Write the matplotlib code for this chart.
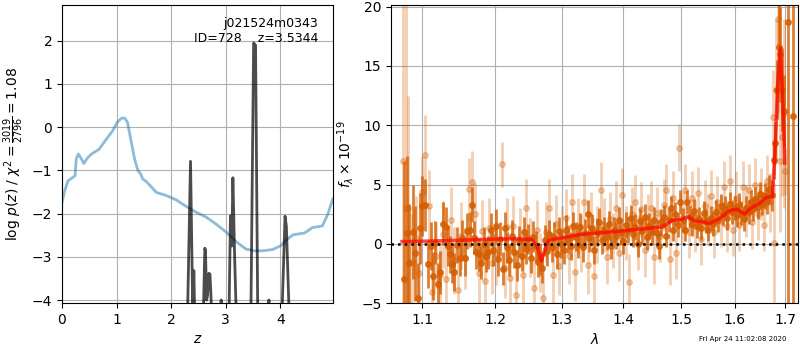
import matplotlib
matplotlib.use("Agg")
import matplotlib.pyplot as plt
from matplotlib.ticker import FixedLocator, FixedFormatter, NullLocator

# ---------------- left panel data ----------------
chi_z = [0.0, 0.05, 0.11, 0.2, 0.24, 0.26, 0.30, 0.35, 0.40, 0.46, 0.54, 0.68, 0.81, 0.93,
         1.01, 1.09, 1.15, 1.20, 1.27, 1.33, 1.39, 1.44, 1.48, 1.54, 1.73, 1.91, 2.09, 2.27,
         2.46, 2.64, 2.82, 3.01, 3.19, 3.37, 3.52, 3.68, 3.86, 4.01, 4.10, 4.23, 4.44, 4.59,
         4.71, 4.77, 4.87, 4.96]
chi_v = [-1.74, -1.47, -1.24, -1.16, -1.12, -0.74, -0.62, -0.72, -0.84, -0.72, -0.62, -0.51,
         -0.28, -0.08, 0.11, 0.21, 0.21, 0.11, -0.35, -0.74, -1.0, -1.08, -1.2, -1.25, -1.51,
         -1.58, -1.68, -1.83, -1.97, -2.08, -2.24, -2.43, -2.65, -2.82, -2.86, -2.86, -2.83,
         -2.74, -2.62, -2.49, -2.45, -2.32, -2.30, -2.28, -2.01, -1.66]

pz_z = [0.0, 2.30, 2.354, 2.395, 2.415, 2.43, 2.59, 2.616, 2.628, 2.648, 2.665, 2.69, 2.71,
        2.725, 2.74, 2.91, 2.915, 2.92, 3.06, 3.085, 3.11, 3.13, 3.16, 3.19, 3.46, 3.51,
        3.545, 3.585, 3.785, 3.79, 3.795, 4.03, 4.085, 4.11, 4.16, 4.96]
pz_v = [-10, -4.3, -0.79, -4.3, -3.32, -4.3, -4.3, -2.8, -2.85, -4.0, -3.9, -3.38, -3.4,
        -3.8, -4.3, -4.3, -4.0, -4.3, -4.3, -2.05, -2.75, -1.17, -2.9, -4.3, -4.3, 1.95,
        1.9, -4.3, -4.3, -4.0, -4.3, -4.3, -2.06, -2.3, -4.3, -10]

left_xticks = [0, 1, 2, 3, 4]
left_yticks = [-4, -3, -2, -1, 0, 1, 2]

# ---------------- right panel data ----------------
dark_wave = [1.076, 1.080, 1.083, 1.087, 1.090, 1.094, 1.097, 1.100, 1.103, 1.107, 1.111, 1.114,
             1.117, 1.121, 1.124, 1.128, 1.131, 1.134, 1.137, 1.140, 1.143, 1.147, 1.150, 1.154,
             1.157, 1.161, 1.164, 1.167, 1.170, 1.173, 1.177, 1.180, 1.184, 1.187, 1.190, 1.194,
             1.197, 1.201, 1.204, 1.207, 1.211, 1.214, 1.218, 1.221, 1.225, 1.228, 1.232, 1.235,
             1.239, 1.242, 1.246, 1.249, 1.253, 1.256, 1.260, 1.263, 1.267, 1.270, 1.274, 1.277,
             1.281, 1.285, 1.288, 1.292, 1.296, 1.299, 1.303, 1.307, 1.310, 1.314, 1.318, 1.322,
             1.325, 1.329, 1.333, 1.337, 1.341, 1.344, 1.348, 1.352, 1.356, 1.360, 1.364, 1.368,
             1.372, 1.376, 1.380, 1.384, 1.388, 1.392, 1.396, 1.400, 1.404, 1.408, 1.412, 1.416,
             1.420, 1.424, 1.428, 1.432, 1.436, 1.440, 1.444, 1.449, 1.453, 1.457, 1.461, 1.465,
             1.469, 1.473, 1.478, 1.482, 1.486, 1.490, 1.494, 1.499, 1.503, 1.507, 1.511, 1.516,
             1.520, 1.524, 1.529, 1.533, 1.537, 1.542, 1.546, 1.550, 1.555, 1.559, 1.564, 1.568,
             1.573, 1.577, 1.582, 1.586, 1.590, 1.595, 1.600, 1.604, 1.609, 1.613, 1.618, 1.622,
             1.627, 1.631, 1.636, 1.640, 1.645, 1.650, 1.654, 1.659, 1.664, 1.668, 1.673, 1.677,
             1.680, 1.684, 1.687, 1.690, 1.693, 1.697, 1.705, 1.715]
dark_flux = [-3.0, 0.9, -1.6, 1.0, -0.8, -4.6, 1.3, 3.2, 3.3, -1.7, -0.2, -2.7,
             0.1, -3.4, -2.4, 1.7, 1.4, -0.2, -0.9, -1.7, -2.4, -0.1, -1.2, 0.5,
             -1.2, 1.1, 1.2, 3.3, 0.5, -0.7, -0.9, -1.6, 0.0, -1.0, -0.7, 1.2,
             -0.5, 1.5, -1.3, 0.4, -2.1, 1.3, -0.3, -1.4, 0.7, -0.7, -1.8, 0.2,
             -1.0, 1.0, -0.4, 0.4, -1.2, 0.6, -0.2, -1.5, -1.3, -2.0, 0.3, -0.6,
             0.8, -0.3, 0.6, -0.9, 1.1, 0.0, -0.5, 1.2, 0.4, -0.2, 1.5, 0.6,
             0.0, 1.4, -0.3, 0.9, 2.5, 0.5, 1.3, -0.5, 1.0, 1.8, 0.3, 1.1,
             0.6, 1.7, -0.2, 1.2, 0.7, 2.0, 1.0, 0.2, 1.6, 1.2, 2.2, 0.8,
             1.4, 0.0, 1.9, 1.1, 2.3, 0.6, 1.5, 1.0, 2.0, 0.9, -0.2, 1.8,
             2.3, 0.7, 2.0, 3.0, 1.2, 2.5, 1.6, 3.5, 2.0, 1.2, 3.5, 2.3,
             1.7, 2.8, 1.5, 2.1, 1.3, 2.6, 1.9, 1.2, 2.2, 1.7, 2.7, 2.0,
             3.2, 2.5, 3.0, 2.2, 3.4, 2.7, 3.0, 2.4, 3.3, 2.6, 2.1, 3.0,
             2.7, 3.5, 2.9, 3.8, 3.1, 4.2, 3.4, 4.0, 3.6, 4.6, 4.1, 7.1,
             8.5, 13.0, 16.6, 16.0, 13.0, 11.2, 18.7, 10.8]
dark_err = [10.0, 6.5, 5.0, 4.0, 4.0, 3.0, 3.0, 2.5, 2.2, 2.0, 2.0, 2.0,
            1.8, 1.8, 1.8, 1.8, 1.7, 1.7, 1.6, 1.6, 1.6, 1.5, 1.5, 1.5,
            1.5, 1.5, 1.5, 1.5, 1.4, 1.4, 1.4, 1.4, 1.4, 1.4, 1.4, 1.4,
            1.4, 1.4, 1.4, 1.4, 1.4, 1.4, 1.3, 1.3, 1.3, 1.3, 1.3, 1.3,
            1.3, 1.3, 1.3, 1.3, 1.3, 1.3, 1.3, 1.3, 1.3, 1.3, 1.3, 1.3,
            1.2, 1.2, 1.2, 1.2, 1.2, 1.2, 1.2, 1.2, 1.2, 1.2, 1.2, 1.2,
            1.2, 1.2, 1.2, 1.2, 1.2, 1.2, 1.2, 1.2, 1.2, 1.2, 1.2, 1.2,
            1.1, 1.1, 1.1, 1.1, 1.1, 1.1, 1.1, 1.1, 1.1, 1.1, 1.1, 1.1,
            1.1, 1.1, 1.1, 1.1, 1.1, 1.1, 1.1, 1.1, 1.1, 1.1, 1.1, 1.1,
            1.0, 1.0, 1.0, 1.0, 1.0, 1.0, 1.0, 1.0, 1.0, 1.0, 1.0, 1.0,
            1.0, 1.0, 1.0, 1.0, 1.0, 1.0, 1.0, 1.0, 1.0, 1.0, 1.0, 1.0,
            1.0, 1.0, 1.0, 1.0, 1.0, 1.0, 1.0, 1.0, 1.0, 1.0, 1.0, 1.0,
            1.0, 1.0, 1.0, 1.0, 1.0, 1.0, 1.0, 1.1, 1.1, 1.2, 1.3, 1.6,
            1.8, 2.5, 3.5, 4.0, 3.5, 3.0, 50.0, 50.0]

light_wave = [1.0745, 1.078, 1.081, 1.086, 1.091, 1.096, 1.100, 1.103, 1.108, 1.112, 1.118,
              1.123, 1.127, 1.132, 1.138, 1.143, 1.148, 1.152, 1.158, 1.163, 1.168, 1.172,
              1.177, 1.182, 1.186, 1.191, 1.196, 1.202, 1.210, 1.214, 1.217, 1.222, 1.226,
              1.231, 1.236, 1.241, 1.246, 1.251, 1.257, 1.262, 1.266, 1.271, 1.276, 1.281,
              1.286, 1.291, 1.296, 1.301, 1.306, 1.311, 1.316, 1.321, 1.326, 1.331, 1.336,
              1.341, 1.346, 1.352, 1.357, 1.362, 1.367, 1.372, 1.377, 1.383, 1.388, 1.393,
              1.398, 1.404, 1.409, 1.414, 1.419, 1.425, 1.430, 1.436, 1.441, 1.447, 1.452,
              1.458, 1.463, 1.469, 1.474, 1.480, 1.485, 1.491, 1.497, 1.502, 1.508, 1.514,
              1.520, 1.525, 1.531, 1.537, 1.543, 1.549, 1.555, 1.561, 1.567, 1.573, 1.579,
              1.585, 1.591, 1.597, 1.603, 1.609, 1.615, 1.621, 1.627, 1.633, 1.639, 1.645,
              1.651, 1.657, 1.663, 1.669, 1.675, 1.678, 1.682, 1.686, 1.689, 1.693, 1.697,
              1.700]
light_flux = [7.0, 3.0, 3.0, -1.5, 0.5, -2.5, 4.4, 7.5, 3.2, -4.1, -1.0,
              -2.6, 0.8, -3.0, 2.0, -1.4, -3.9, 0.7, -1.2, 4.6, 5.2, 2.5,
              -2.5, 1.1, -3.1, 1.3, -1.6, -0.9, 6.7, -2.0, 1.4, -2.9, 1.5,
              -4.3, 0.5, -2.6, 3.0, -0.3, -3.7, 1.2, -1.6, -4.6, 1.0, 3.0,
              -2.6, 1.7, -1.9, 0.8, 2.2, -1.0, 3.5, -2.4, 1.5, 0.0, 3.5,
              -1.8, 2.0, -2.7, 0.8, 4.5, 1.6, -1.1, 2.1, 0.3, 3.0, -0.8,
              4.1, 0.9, -3.2, 2.5, 3.5, 0.1, 2.9, -0.5, 1.9, 3.0, -1.1,
              2.6, 0.7, 3.3, 4.5, -1.3, 3.9, -0.8, 8.1, 2.2, 4.5, 1.0,
              3.9, 1.5, 4.3, 0.4, 3.2, 2.0, 4.0, 1.0, 3.5, 1.9, 4.8,
              1.5, 5.3, 1.2, 3.9, 1.6, 4.8, 2.8, 4.5, 1.8, 5.0, 2.5,
              4.2, 1.6, 5.3, 3.5, 10.7, 0.1, 13.0, 19.0, 7.0, 9.0, 11.0,
              6.1]
light_err = [14.0, 18.0, 9.5, 4.0, 3.5, 3.5, 3.0, 3.4, 3.0, 3.0, 2.8,
             2.8, 2.8, 2.8, 2.8, 2.8, 2.8, 2.8, 2.6, 2.6, 2.6, 2.6,
             2.6, 2.6, 2.6, 2.6, 2.6, 2.6, 1.9, 2.6, 2.5, 2.5, 2.5,
             2.5, 2.5, 2.5, 2.5, 2.5, 2.5, 2.5, 2.5, 2.5, 2.5, 2.5,
             2.4, 2.4, 2.4, 2.4, 2.4, 2.4, 2.4, 2.4, 2.4, 2.4, 2.4,
             2.4, 2.4, 2.4, 2.4, 2.4, 2.3, 2.3, 2.3, 2.3, 2.3, 2.3,
             2.3, 2.3, 2.3, 2.3, 2.3, 2.3, 2.3, 2.3, 2.3, 2.3, 2.3,
             2.2, 2.2, 2.2, 2.2, 2.2, 2.2, 2.2, 2.0, 2.2, 2.2, 2.2,
             2.2, 2.2, 2.2, 2.2, 2.2, 2.2, 2.2, 2.2, 2.2, 2.2, 2.2,
             2.2, 2.2, 2.2, 2.2, 2.2, 2.2, 2.2, 2.2, 2.2, 2.2, 2.2,
             2.2, 2.2, 2.2, 2.5, 4.0, 5.0, 6.0, 8.0, 6.0, 5.0, 8.0,
             2.0]

model_wave = [1.0733, 1.10, 1.15, 1.20, 1.23, 1.255, 1.262, 1.2687, 1.275, 1.28, 1.30, 1.33,
              1.38, 1.42, 1.45, 1.4668, 1.484, 1.50, 1.513, 1.525, 1.54, 1.5515, 1.57, 1.592,
              1.605, 1.619, 1.631, 1.651, 1.661, 1.674, 1.680, 1.6845, 1.690, 1.695, 1.699]
model_flux = [0.19, 0.22, 0.3, 0.4, 0.42, 0.35, -0.2, -1.44, -0.3, 0.3, 0.5, 0.8,
              1.0, 1.2, 1.35, 1.42, 1.98, 2.05, 2.29, 1.93, 1.85, 1.7, 2.1, 2.85,
              2.9, 2.5, 3.0, 3.5, 3.9, 4.0, 8.5, 13.5, 16.5, 12.0, 6.8]

right_xticks = [1.1, 1.2, 1.3, 1.4, 1.5, 1.6, 1.7]
right_yticks = [-5, 0, 5, 10, 15, 20]

obj_name = "j021524m0343"
obj_id = 728
z_best = 3.5344
timestamp = "Fri Apr 24 11:02:08 2020"

G141 = (0.8352941176470589, 0.3686274509803922, 0.0)

fig = plt.figure(figsize=(8, 3.5), dpi=100)

# ---------- left ----------
ax1 = fig.add_axes([0.0775, 0.134, 0.3385, 0.852])
ax1.plot(chi_z, chi_v, color='C0', alpha=0.5, lw=2)
ax1.plot(pz_z, pz_v, color='k', alpha=0.7, lw=2)
ax1.set_xlim(0, 4.96)
ax1.set_ylim(-4.07, 2.83)
ax1.set_xticks(left_xticks)
ax1.set_yticks(left_yticks)
ax1.grid(True)
ax1.set_xlabel('$z$')
ax1.set_ylabel(r'log $p(z)$ / $\chi^2=\frac{3019}{2796}=1.08$')
ax1.text(0.945, 0.96, '{0}\nID={1}    z={2:.4f}'.format(obj_name, obj_id, z_best),
         ha='right', va='top', transform=ax1.transAxes, fontsize=9)

# ---------- right ----------
ax2 = fig.add_axes([0.489, 0.134, 0.509, 0.852])
ax2.errorbar(light_wave, light_flux, yerr=light_err, color=G141, alpha=0.3,
             marker='o', ms=4, linestyle='None', elinewidth=2)
ax2.errorbar(dark_wave, dark_flux, yerr=dark_err, color=G141, alpha=0.8,
             marker='o', ms=4, linestyle='None', elinewidth=2)
ax2.plot(model_wave, model_flux, color='r', alpha=0.7, lw=2.5, zorder=5)
ax2.axhline(0, color='k', linestyle=':', lw=1.8, zorder=6)
ax2.set_xscale('log')
ax2.set_xlim(1.0595, 1.727)
ax2.set_ylim(-5, 20.15)
ax2.xaxis.set_major_locator(FixedLocator(right_xticks))
ax2.xaxis.set_major_formatter(FixedFormatter(['{0:.1f}'.format(t) for t in right_xticks]))
ax2.xaxis.set_minor_locator(NullLocator())
ax2.set_yticks(right_yticks)
ax2.grid(True)
ax2.set_xlabel(r'$\lambda$')
ax2.set_ylabel(r'$f_\lambda \times 10^{-19}$')

fig.text(0.983, 0.031, timestamp, ha='right', va='center', fontsize=5)

fig.savefig('out.png', dpi=100)
